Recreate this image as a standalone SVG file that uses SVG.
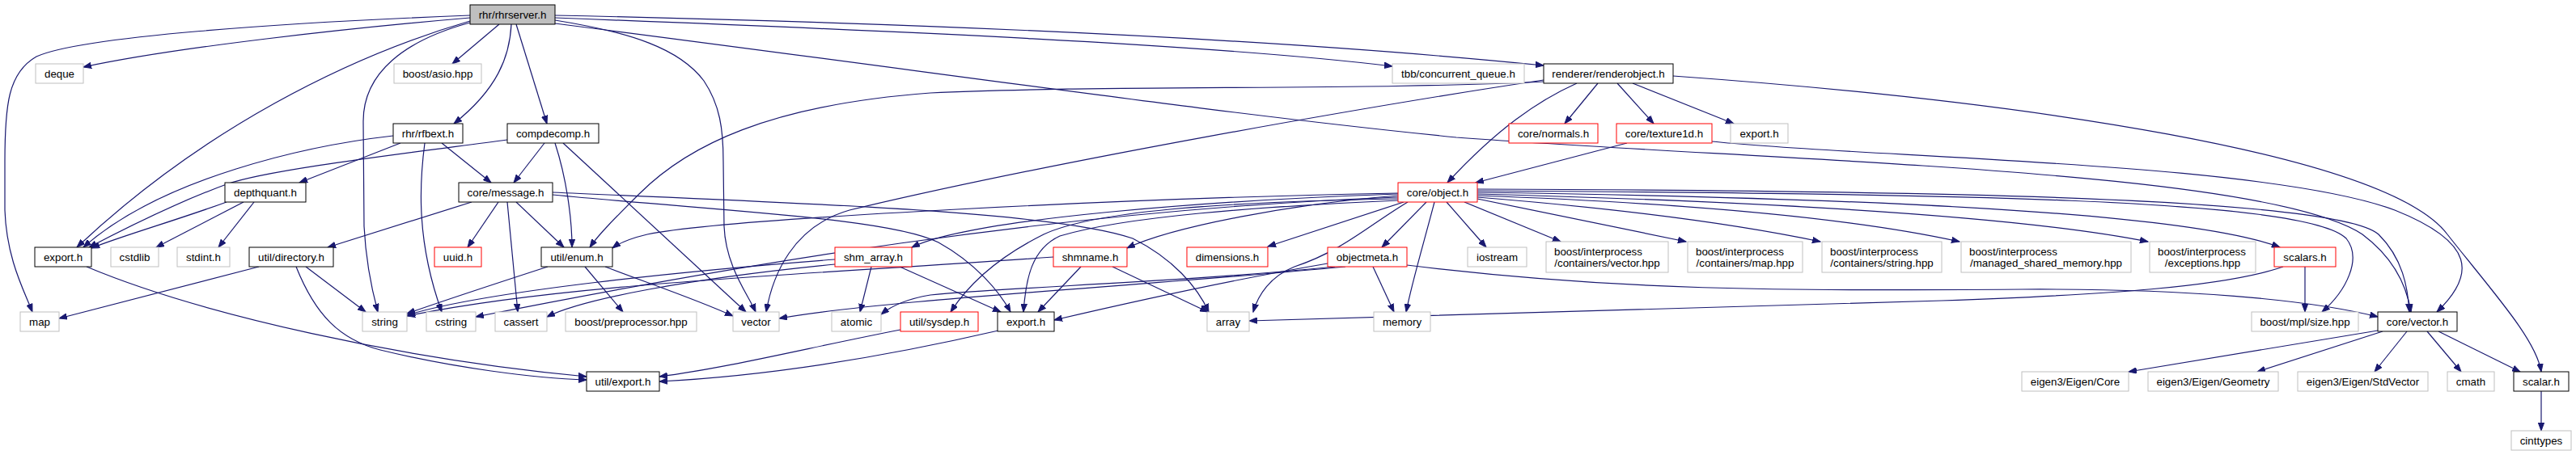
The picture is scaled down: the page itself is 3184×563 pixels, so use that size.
<svg xmlns="http://www.w3.org/2000/svg" width="3184" height="563" viewBox="0 0 3184 563">
<style>
text{font-family:"Liberation Sans",Arial,Helvetica,sans-serif;font-size:13.33px;fill:#000;text-anchor:middle}
text.l{text-anchor:start}
rect{fill:#fff;stroke-width:1}
.g rect{stroke:#bfbfbf}
.b rect{stroke:#000}
.r rect{stroke:#ff0000}
.root rect{fill:#bfbfbf;stroke:#000}
#edges path{fill:none;stroke:#191970;stroke-width:1.2;marker-end:url(#a)}
</style>
<defs>
<marker id="a" markerUnits="userSpaceOnUse" markerWidth="11" markerHeight="8" refX="10" refY="4" orient="auto"><path d="M0,0.3 L10,4 L0,7.7 z" fill="#191970" stroke="#191970" stroke-width="1"/></marker>
</defs>
<rect x="0" y="0" width="3184" height="563" style="fill:#fff;stroke:none"/>
<g id="edges">
<path d="M581,22 C430,35 220,58 103,83"/>
<path d="M581,19 C350,28 100,45 45,70 C10,90 6,130 6,200 L6,260 C8,320 30,360 40,386"/>
<path d="M581,26 C430,70 250,160 95,306"/>
<path d="M617,30 L559,79"/>
<path d="M632,30 C630,70 615,110 561,153"/>
<path d="M638,30 L676,153"/>
<path d="M581,28 C500,50 449,90 449,150 L450,280 C452,320 460,360 467,386"/>
<path d="M686,25 C780,40 840,60 870,100 C890,130 894,160 894,200 L895,280 C897,330 925,365 934,386"/>
<path d="M686,22 C1100,38 1500,55 1721,82"/>
<path d="M686,19 C1200,30 1600,50 1908,81"/>
<path d="M686,29 C1200,95 1500,140 1800,170 C2200,200 2800,210 2920,290 C2960,320 2975,355 2980,386"/>
<path d="M1949,103 C1900,125 1850,160 1789,226"/>
<path d="M1975,103 L1934,153"/>
<path d="M1999,103 L2044,153"/>
<path d="M2018,103 L2143,153"/>
<path d="M1908,101 C1700,112 1350,105 1150,115 C950,130 850,180 790,240 C760,270 740,290 729,306"/>
<path d="M1908,99 C1700,130 1300,200 1050,260 C980,280 955,340 947,386"/>
<path d="M2068,94 C2500,125 2950,190 3025,290 C3080,360 3135,420 3141,460"/>
<path d="M2011,177 L1824,226"/>
<path d="M2116,175 C2300,195 2800,200 2960,260 C3060,300 3060,340 3012,386"/>
<path d="M486,168 C380,180 200,220 103,306"/>
<path d="M495,177 L370,226"/>
<path d="M525,177 C518,230 515,300 546,386"/>
<path d="M546,177 L607,226"/>
<path d="M627,173 C500,190 330,210 280,228 C220,250 150,285 110,306"/>
<path d="M673,177 L635,226"/>
<path d="M686,177 C700,220 707,270 707,306"/>
<path d="M696,177 L922,386"/>
<path d="M280,250 C220,272 150,292 113,307"/>
<path d="M301,250 L193,306"/>
<path d="M314,250 L270,306"/>
<path d="M583,250 L405,306"/>
<path d="M616,250 L578,306"/>
<path d="M627,250 L640,386"/>
<path d="M638,250 L697,306"/>
<path d="M683,241 C900,262 1100,270 1160,300 C1205,325 1235,360 1249,386"/>
<path d="M683,238 C950,250 1300,260 1400,295 C1450,320 1480,355 1494,386"/>
<path d="M1728,239 C1400,245 900,270 800,290 C775,296 765,301 757,307"/>
<path d="M1728,240 C1500,248 1200,270 1127,306"/>
<path d="M1728,242 C1600,252 1450,280 1393,307"/>
<path d="M1735,250 L1567,305"/>
<path d="M1728,246 C1500,250 1350,262 1290,290 C1230,320 1195,355 1175,386"/>
<path d="M1728,248 C1550,256 1390,268 1310,292 C1275,308 1268,345 1265,386"/>
<path d="M1740,250 C1690,280 1660,310 1600,330 C1570,342 1555,365 1549,386"/>
<path d="M1728,244 C1300,260 900,330 588,392"/>
<path d="M1763,250 L1708,306"/>
<path d="M1773,250 C1760,300 1745,350 1738,386"/>
<path d="M1788,250 L1837,306"/>
<path d="M1810,250 L1929,299"/>
<path d="M1826,246 L2084,299"/>
<path d="M1826,244 C2000,258 2150,278 2250,299"/>
<path d="M1826,242 C2100,252 2300,272 2422,299"/>
<path d="M1826,240 C2200,250 2500,268 2655,299"/>
<path d="M1826,238 C2300,245 2700,262 2818,306"/>
<path d="M1826,236 C2400,240 2850,245 2900,295 C2920,320 2900,360 2870,386"/>
<path d="M1826,234 C2400,236 2890,245 2940,290 C2970,320 2976,355 2978,386"/>
<path d="M1641,326 C1500,350 1350,385 1303,396"/>
<path d="M1650,330 C1450,350 1250,355 1150,365 C1120,370 1100,380 1089,389"/>
<path d="M1663,330 C1400,355 1100,370 963,394"/>
<path d="M1697,330 L1723,386"/>
<path d="M1739,328 C2000,360 2200,360 2500,358 C2700,357 2850,370 2939,392"/>
<path d="M2849,330 L2849,386"/>
<path d="M2822,330 C2750,355 2600,365 2400,372 C2000,385 1700,390 1544,397"/>
<path d="M1077,330 L1063,386"/>
<path d="M1112,330 L1237,386"/>
<path d="M1032,321 C850,335 600,360 503,390"/>
<path d="M1032,327 C850,345 720,370 676,392"/>
<path d="M1336,330 L1283,386"/>
<path d="M1375,330 L1493,386"/>
<path d="M1302,318 C1000,340 700,350 503,391"/>
<path d="M677,330 C600,355 540,375 503,388"/>
<path d="M723,330 L770,386"/>
<path d="M748,330 C800,350 860,370 906,391"/>
<path d="M320,330 L73,394"/>
<path d="M378,330 L452,386"/>
<path d="M366,330 C390,390 420,420 470,433 C560,455 660,468 725,470"/>
<path d="M107,330 C250,390 500,445 725,466"/>
<path d="M1113,408 C1000,430 900,455 815,466"/>
<path d="M1234,409 C1100,440 950,465 815,472"/>
<path d="M2939,409 L2631,460"/>
<path d="M2945,410 L2790,460"/>
<path d="M2975,410 L2935,460"/>
<path d="M3000,410 L3042,460"/>
<path d="M3014,410 L3115,460"/>
<path d="M3141,484 L3141,533"/>
</g>
<g id="n0" class="root"><rect x="581" y="6" width="105" height="24"/><text x="633.5" y="22.5">rhr/rhrserver.h</text></g>
<g id="n1" class="g"><rect x="44" y="79" width="59" height="24"/><text x="73.5" y="95.5">deque</text></g>
<g id="n2" class="g"><rect x="487" y="79" width="108" height="24"/><text x="541" y="95.5">boost/asio.hpp</text></g>
<g id="n3" class="g"><rect x="1721" y="79" width="163" height="24"/><text x="1802.5" y="95.5">tbb/concurrent_queue.h</text></g>
<g id="n4" class="b"><rect x="1908" y="79" width="160" height="24"/><text x="1988" y="95.5">renderer/renderobject.h</text></g>
<g id="n5" class="b"><rect x="486" y="153" width="86" height="24"/><text x="529" y="169.5">rhr/rfbext.h</text></g>
<g id="n6" class="b"><rect x="627" y="153" width="113" height="24"/><text x="683.5" y="169.5">compdecomp.h</text></g>
<g id="n7" class="r"><rect x="1865" y="153" width="110" height="24"/><text x="1920" y="169.5">core/normals.h</text></g>
<g id="n8" class="r"><rect x="1998" y="153" width="118" height="24"/><text x="2057" y="169.5">core/texture1d.h</text></g>
<g id="n9" class="g"><rect x="2139" y="153" width="71" height="24"/><text x="2174.5" y="169.5">export.h</text></g>
<g id="n10" class="b"><rect x="278" y="226" width="100" height="24"/><text x="328" y="242.5">depthquant.h</text></g>
<g id="n11" class="b"><rect x="567" y="226" width="116" height="24"/><text x="625" y="242.5">core/message.h</text></g>
<g id="n12" class="r"><rect x="1728" y="226" width="98" height="24"/><text x="1777" y="242.5">core/object.h</text></g>
<g id="n13" class="b"><rect x="43" y="306" width="70" height="24"/><text x="78" y="322.5">export.h</text></g>
<g id="n14" class="g"><rect x="137" y="306" width="59" height="24"/><text x="166.5" y="322.5">cstdlib</text></g>
<g id="n15" class="g"><rect x="219" y="306" width="65" height="24"/><text x="251.5" y="322.5">stdint.h</text></g>
<g id="n16" class="b"><rect x="308" y="306" width="104" height="24"/><text x="360" y="322.5">util/directory.h</text></g>
<g id="n17" class="r"><rect x="537" y="306" width="58" height="24"/><text x="566" y="322.5">uuid.h</text></g>
<g id="n18" class="b"><rect x="669" y="306" width="88" height="24"/><text x="713" y="322.5">util/enum.h</text></g>
<g id="n19" class="r"><rect x="1032" y="306" width="95" height="24"/><text x="1079.5" y="322.5">shm_array.h</text></g>
<g id="n20" class="r"><rect x="1302" y="306" width="91" height="24"/><text x="1347.5" y="322.5">shmname.h</text></g>
<g id="n21" class="r"><rect x="1467" y="306" width="100" height="24"/><text x="1517" y="322.5">dimensions.h</text></g>
<g id="n22" class="r"><rect x="1641" y="306" width="98" height="24"/><text x="1690" y="322.5">objectmeta.h</text></g>
<g id="n23" class="g"><rect x="1814" y="306" width="73" height="24"/><text x="1850.5" y="322.5">iostream</text></g>
<g id="n24" class="g"><rect x="1911" y="299" width="151" height="38"/><text class="l" x="1921" y="316">boost/interprocess</text><text x="1986.5" y="330">/containers/vector.hpp</text></g>
<g id="n25" class="g"><rect x="2086" y="299" width="142" height="38"/><text class="l" x="2096" y="316">boost/interprocess</text><text x="2157" y="330">/containers/map.hpp</text></g>
<g id="n26" class="g"><rect x="2252" y="299" width="148" height="38"/><text class="l" x="2262" y="316">boost/interprocess</text><text x="2326" y="330">/containers/string.hpp</text></g>
<g id="n27" class="g"><rect x="2424" y="299" width="210" height="38"/><text class="l" x="2434" y="316">boost/interprocess</text><text x="2529" y="330">/managed_shared_memory.hpp</text></g>
<g id="n28" class="g"><rect x="2657" y="299" width="131" height="38"/><text class="l" x="2667" y="316">boost/interprocess</text><text x="2722.5" y="330">/exceptions.hpp</text></g>
<g id="n29" class="r"><rect x="2811" y="306" width="76" height="24"/><text x="2849" y="322.5">scalars.h</text></g>
<g id="n30" class="g"><rect x="25" y="386" width="48" height="24"/><text x="49" y="402.5">map</text></g>
<g id="n31" class="g"><rect x="448" y="386" width="55" height="24"/><text x="475.5" y="402.5">string</text></g>
<g id="n32" class="g"><rect x="527" y="386" width="61" height="24"/><text x="557.5" y="402.5">cstring</text></g>
<g id="n33" class="g"><rect x="612" y="386" width="64" height="24"/><text x="644" y="402.5">cassert</text></g>
<g id="n34" class="g"><rect x="699" y="386" width="162" height="24"/><text x="780" y="402.5">boost/preprocessor.hpp</text></g>
<g id="n35" class="g"><rect x="906" y="386" width="57" height="24"/><text x="934.5" y="402.5">vector</text></g>
<g id="n36" class="g"><rect x="1028" y="386" width="61" height="24"/><text x="1058.5" y="402.5">atomic</text></g>
<g id="n37" class="r"><rect x="1113" y="386" width="96" height="24"/><text x="1161" y="402.5">util/sysdep.h</text></g>
<g id="n38" class="b"><rect x="1233" y="386" width="70" height="24"/><text x="1268" y="402.5">export.h</text></g>
<g id="n39" class="g"><rect x="1492" y="386" width="52" height="24"/><text x="1518" y="402.5">array</text></g>
<g id="n40" class="g"><rect x="1698" y="386" width="70" height="24"/><text x="1733" y="402.5">memory</text></g>
<g id="n41" class="g"><rect x="2783" y="386" width="132" height="24"/><text x="2849" y="402.5">boost/mpl/size.hpp</text></g>
<g id="n42" class="b"><rect x="2939" y="386" width="98" height="24"/><text x="2988" y="402.5">core/vector.h</text></g>
<g id="n43" class="b"><rect x="725" y="460" width="90" height="24"/><text x="770" y="476.5">util/export.h</text></g>
<g id="n44" class="g"><rect x="2499" y="460" width="132" height="24"/><text x="2565" y="476.5">eigen3/Eigen/Core</text></g>
<g id="n45" class="g"><rect x="2655" y="460" width="161" height="24"/><text x="2735.5" y="476.5">eigen3/Eigen/Geometry</text></g>
<g id="n46" class="g"><rect x="2840" y="460" width="161" height="24"/><text x="2920.5" y="476.5">eigen3/Eigen/StdVector</text></g>
<g id="n47" class="g"><rect x="3025" y="460" width="58" height="24"/><text x="3054" y="476.5">cmath</text></g>
<g id="n48" class="b"><rect x="3107" y="460" width="68" height="24"/><text x="3141" y="476.5">scalar.h</text></g>
<g id="n49" class="g"><rect x="3104" y="533" width="74" height="24"/><text x="3141" y="549.5">cinttypes</text></g>
</svg>
